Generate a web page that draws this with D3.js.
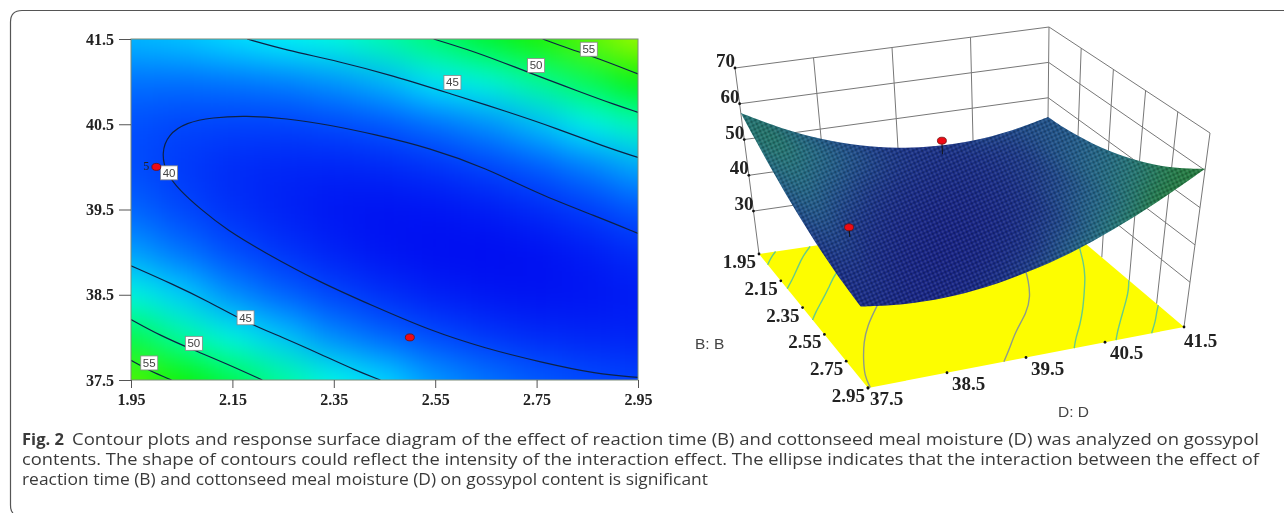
<!DOCTYPE html>
<html>
<head>
<meta charset="utf-8">
<script src="https://cdn.jsdelivr.net/npm/d3@7"></script>
<style>
  html, body { margin: 0; padding: 0; background: #fff; overflow: hidden; }
  .num { font-family: "Liberation Serif", serif; font-weight: bold; fill: #222; }
  .name { font-family: "Liberation Sans", sans-serif; fill: #444; }
  .caption { font-family: "Open Sans", sans-serif; font-size: 15.5px; fill: #3a3a3a; }
</style>
</head>
<body>
<script>
const width = 1284;
const height = 513;

// Tick labels
const bTicks = [1.95, 2.15, 2.35, 2.55, 2.75, 2.95];
const dTicks = [37.5, 38.5, 39.5, 40.5, 41.5];
const zTicks = [30, 40, 50, 60, 70];

// Response: one row per D value, one column per B value
const bGrid = [1.95, 2.05, 2.15, 2.25, 2.35, 2.45, 2.55, 2.65, 2.75, 2.85, 2.95];
const dGrid = [37.5, 38, 38.5, 39, 39.5, 40, 40.5, 41, 41.5];
const zGrid = [
  [57.4, 54.5, 51.8, 49.4, 47.2, 45.4, 43.8, 42.5, 41.5, 40.8, 40.3],
  [51.8, 49.2, 47.0, 45.0, 43.2, 41.8, 40.7, 39.8, 39.2, 38.9, 38.8],
  [47.3, 45.2, 43.3, 41.7, 40.4, 39.4, 38.6, 38.2, 38.0, 38.1, 38.4],
  [44.0, 42.3, 40.8, 39.6, 38.7, 38.1, 37.8, 37.7, 37.9, 38.4, 39.2],
  [41.8, 40.5, 39.4, 38.7, 38.2, 38.0, 38.1, 38.4, 39.1, 40.0, 41.2],
  [40.8, 39.9, 39.2, 38.9, 38.8, 39.0, 39.5, 40.3, 41.3, 42.6, 44.2],
  [40.9, 40.4, 40.2, 40.2, 40.6, 41.2, 42.1, 43.3, 44.7, 46.5, 48.5],
  [42.2, 42.1, 42.3, 42.7, 43.5, 44.5, 45.8, 47.4, 49.3, 51.4, 53.9],
  [44.6, 44.9, 45.5, 46.4, 47.6, 49.0, 50.7, 52.7, 55.0, 57.6, 60.4]
];

// Contour lines as [B, D] pairs
const contour40 = [[2.95, 37.53], [2.868, 37.57], [2.758, 37.71], [2.649, 37.87], [2.54, 38.08], [2.431, 38.36], [2.321, 38.65], [2.212, 39.0], [2.139, 39.26], [2.088, 39.5], [2.045, 39.73], [2.019, 39.93], [2.01, 40.16], [2.023, 40.38], [2.059, 40.52], [2.11, 40.58], [2.176, 40.6], [2.256, 40.57], [2.343, 40.49], [2.431, 40.38], [2.54, 40.22], [2.649, 39.99], [2.758, 39.67], [2.868, 39.42], [2.95, 39.22]];
const contour45Upper = [[2.179, 41.5], [2.256, 41.37], [2.358, 41.24], [2.467, 41.07], [2.584, 40.85], [2.686, 40.66], [2.795, 40.44], [2.882, 40.24], [2.95, 40.11]];
const contour45Lower = [[1.95, 38.84], [2.03, 38.63], [2.103, 38.42], [2.176, 38.18], [2.249, 38.0], [2.321, 37.81], [2.394, 37.61], [2.442, 37.5]];
const contour50Upper = [[2.547, 41.5], [2.613, 41.38], [2.686, 41.22], [2.751, 41.07], [2.831, 40.89], [2.904, 40.73], [2.95, 40.64]];
const contour50Lower = [[1.95, 38.21], [2.008, 38.02], [2.074, 37.85], [2.139, 37.69], [2.209, 37.5]];
const contour55Upper = [[2.762, 41.5], [2.817, 41.38], [2.868, 41.28], [2.95, 41.09]];
const contour55Lower = [[1.95, 37.73], [1.986, 37.61], [2.03, 37.5]];
const contourLevels = [40, 45, 45, 50, 50, 55, 55];
const contourLines = [contour40, contour45Upper, contour45Lower, contour50Upper, contour50Lower, contour55Upper, contour55Lower];

// Contour labels: level, B, D
const labelLevels = [55, 50, 45, 40, 45, 50, 55];
const labelB = [2.853, 2.749, 2.584, 2.025, 2.176, 2.074, 1.986];
const labelD = [41.38, 41.19, 40.99, 39.93, 38.23, 37.93, 37.7];

// Design points: B, D, measured response, surface below it
const pointB = [2.0, 2.5];
const pointD = [40.0, 38.0];
const pointZ = [44, 43.9];
const pointSurface = [40.2, 41.2];

const svg = d3.select("body")
    .append("svg")
    .attr("width", width)
    .attr("height", height)
    .style("display", "block");

const defs = svg.append("defs");
const blur = (id, sd) => defs.append("filter")
    .attr("id", id)
    .attr("filterUnits", "userSpaceOnUse")
    .attr("x", 0).attr("y", 0).attr("width", width).attr("height", height)
    .attr("color-interpolation-filters", "sRGB")
    .append("feGaussianBlur").attr("stdDeviation", sd);
blur("heatBlur", 19);
blur("surfBlur", 12);
blur("soft", 0.5);

// Outer rounded frame of the figure
svg.append("path")
    .attr("d", "M13,513 Q10.5,511 10.5,505 V22 Q10.5,10.5 22,10.5 H1284")
    .attr("fill", "none")
    .attr("stroke", "#555")
    .attr("stroke-width", 1.2);

const chart = svg.append("g").attr("filter", "url(#soft)");

// ---------- contour plot ----------
const x = d3.scaleLinear().domain([1.95, 2.95]).range([131, 638]);
const y = d3.scaleLinear().domain([37.5, 41.5]).range([380, 39]);

const heatColor = d3.scaleLinear()
    .domain([37.5, 41, 44, 46, 48, 50, 54, 64])
    .range(["#0008f0", "#0050ff", "#00a0ff", "#00f4ff", "#00ffd8", "#00ff80", "#00f000", "#ffff00"]);

defs.append("clipPath").attr("id", "plotClip")
    .append("rect")
    .attr("x", x.range()[0]).attr("y", y.range()[1])
    .attr("width", x.range()[1] - x.range()[0])
    .attr("height", y.range()[0] - y.range()[1]);

const stepB = bGrid[1] - bGrid[0];
const stepD = dGrid[1] - dGrid[0];
const pad = 80; // edge cells run past the plot so the blur keeps its colour at the border

const heat = chart.append("g").attr("clip-path", "url(#plotClip)")
    .append("g").attr("filter", "url(#heatBlur)");

const cells = zGrid.flatMap((row, j) => row.map((z, i) => ({ i, j, z })));
heat.selectAll("rect")
    .data(cells)
    .enter()
    .append("rect")
    .attr("x", d => x(bGrid[d.i] - stepB / 2) - (d.i === 0 ? pad : 0))
    .attr("y", d => y(dGrid[d.j] + stepD / 2) - (d.j === dGrid.length - 1 ? pad : 0))
    .attr("width", d => x(bGrid[d.i] + stepB / 2) - x(bGrid[d.i] - stepB / 2) + (d.i === 0 || d.i === bGrid.length - 1 ? pad : 0) + 0.5)
    .attr("height", d => y(dGrid[d.j] - stepD / 2) - y(dGrid[d.j] + stepD / 2) + (d.j === 0 || d.j === dGrid.length - 1 ? pad : 0) + 0.5)
    .attr("fill", d => heatColor(d.z));

const contourPath = d3.line()
    .x(d => x(d[0]))
    .y(d => y(d[1]))
    .curve(d3.curveBasis);

chart.append("g").attr("clip-path", "url(#plotClip)")
    .selectAll("path")
    .data(contourLines)
    .enter()
    .append("path")
    .attr("d", contourPath)
    .attr("fill", "none")
    .attr("stroke", "#0d2246")
    .attr("stroke-width", 1.2);

chart.append("rect")
    .attr("x", x.range()[0]).attr("y", y.range()[1])
    .attr("width", x.range()[1] - x.range()[0])
    .attr("height", y.range()[0] - y.range()[1])
    .attr("fill", "none")
    .attr("stroke", "#7c8c78");

const leftAxis = chart.append("g")
    .attr("transform", `translate(${x.range()[0]},0)`)
    .call(d3.axisLeft(y).tickValues(dTicks).tickFormat(d3.format(".1f")).tickSize(12).tickPadding(5));
const bottomAxis = chart.append("g")
    .attr("transform", `translate(0,${y.range()[0]})`)
    .call(d3.axisBottom(x).tickValues(bTicks).tickFormat(d3.format(".2f")).tickSize(8).tickPadding(6));
[leftAxis, bottomAxis].forEach(a => {
    a.select(".domain").remove();
    a.selectAll("line").attr("stroke", "#555");
    a.selectAll("text").attr("class", "num").style("font-size", "16px");
});

const labels = chart.append("g")
    .selectAll("g")
    .data(labelLevels)
    .enter()
    .append("g")
    .attr("transform", (d, i) => `translate(${x(labelB[i])},${y(labelD[i])})`);
labels.append("rect")
    .attr("x", -8.5).attr("y", -7).attr("width", 17).attr("height", 14)
    .attr("fill", "#fff").attr("stroke", "#888").attr("stroke-width", 0.8);
labels.append("text")
    .attr("class", "name")
    .attr("text-anchor", "middle")
    .attr("y", 4)
    .style("font-size", "11.5px")
    .text(d => d);

chart.selectAll(".flat-point")
    .data(pointB)
    .enter()
    .append("ellipse")
    .attr("class", "flat-point")
    .attr("cx", d => x(d))
    .attr("cy", (d, i) => y(pointD[i]))
    .attr("rx", 4.5).attr("ry", 3.5)
    .attr("fill", "#ee0a14").attr("stroke", "#6b1010").attr("stroke-width", 0.8);

chart.append("text")
    .attr("class", "num")
    .attr("x", x(pointB[0]) - 7)
    .attr("y", y(pointD[0]) + 3)
    .attr("text-anchor", "end")
    .style("font-size", "12px")
    .style("font-weight", "normal")
    .text("5");

// ---------- response surface ----------
const zFloor = 18;
const u = d3.scaleLinear().domain([1.95, 2.95]).range([0, 1]);
const w = d3.scaleLinear().domain([37.5, 41.5]).range([0, 1]);
const h = d3.scaleLinear().domain([zFloor, 70]).range([0, 1]);

// Corners of the 3D box on the page, named B / D / floor-or-top
const boxFloor = { b0d0: [759, 254], b0d1: [1047, 211], b1d0: [868, 388], b1d1: [1184, 327] };
const boxTop = { b0d0: [735, 68], b0d1: [1049, 27], b1d0: [851, 198], b1d1: [1210, 133] };

function mix(a, b, t) {
    return [a[0] + (b[0] - a[0]) * t, a[1] + (b[1] - a[1]) * t];
}
function project(b, d, z) {
    const ub = u(b), wd = w(d);
    const floor = mix(mix(boxFloor.b0d0, boxFloor.b0d1, wd), mix(boxFloor.b1d0, boxFloor.b1d1, wd), ub);
    const top = mix(mix(boxTop.b0d0, boxTop.b0d1, wd), mix(boxTop.b1d0, boxTop.b1d1, wd), ub);
    return mix(floor, top, h(z));
}

const plainLine = d3.line();
const smoothLine = d3.line().curve(d3.curveBasis);
const edgeLine = d3.line().curve(d3.curveCatmullRom);

// Walls: the B = 1.95 side and the D = 41.5 side
const wallLines = [];
zTicks.forEach(z => {
    wallLines.push([project(1.95, 37.5, z), project(1.95, 41.5, z), project(2.95, 41.5, z)]);
});
[37.5, 38.5, 39.5, 40.5, 41.5].forEach(d => {
    wallLines.push([project(1.95, d, zFloor), project(1.95, d, 70)]);
});
[2.15, 2.35, 2.55, 2.75, 2.95].forEach(b => {
    wallLines.push([project(b, 41.5, zFloor), project(b, 41.5, 70)]);
});
chart.append("g")
    .selectAll("path")
    .data(wallLines)
    .enter()
    .append("path")
    .attr("d", plainLine)
    .attr("fill", "none")
    .attr("stroke", "#777")
    .attr("stroke-width", 1);

// Yellow floor with the contours laid on it
const floorCorners = [project(1.95, 37.5, zFloor), project(1.95, 41.5, zFloor), project(2.95, 41.5, zFloor), project(2.95, 37.5, zFloor)];
chart.append("path")
    .attr("d", plainLine(floorCorners) + "Z")
    .attr("fill", "#fdfd00");

chart.append("g")
    .selectAll("path")
    .data(contourLines)
    .enter()
    .append("path")
    .attr("d", line => smoothLine(line.map(p => project(p[0], p[1], zFloor))))
    .attr("fill", "none")
    .attr("stroke", (d, i) => contourLevels[i] === 40 ? "#8e9c88" : "#66cc88")
    .attr("stroke-width", 1.4);

// Surface facets, blurred together and cut to the outline of the surface
const surfColor = d3.scaleLinear()
    .domain([38, 41, 45, 50, 55, 60])
    .range(["#182484", "#1c3488", "#24608a", "#257878", "#247a46", "#2e7e28"]);

const facets = [];
d3.range(dGrid.length - 1).forEach(j => {
    d3.range(bGrid.length - 1).forEach(i => {
        facets.push({
            i, j,
            z: d3.mean([zGrid[j][i], zGrid[j][i + 1], zGrid[j + 1][i], zGrid[j + 1][i + 1]]),
            pts: [
                project(bGrid[i], dGrid[j], zGrid[j][i]),
                project(bGrid[i + 1], dGrid[j], zGrid[j][i + 1]),
                project(bGrid[i + 1], dGrid[j + 1], zGrid[j + 1][i + 1]),
                project(bGrid[i], dGrid[j + 1], zGrid[j + 1][i])
            ]
        });
    });
});

const lastI = bGrid.length - 1;
const lastJ = dGrid.length - 1;
const edgeFront = bGrid.map((b, i) => project(b, dGrid[0], zGrid[0][i]));
const edgeRight = dGrid.map((d, j) => project(bGrid[lastI], d, zGrid[j][lastI]));
const edgeBack = bGrid.map((b, i) => project(b, dGrid[lastJ], zGrid[lastJ][i])).reverse();
const edgeLeft = dGrid.map((d, j) => project(bGrid[0], d, zGrid[j][0])).reverse();
const outline = [edgeFront, edgeRight, edgeBack, edgeLeft]
    .map((e, k) => k === 0 ? edgeLine(e) : edgeLine(e).replace(/^M/, "L"))
    .join("") + "Z";

defs.append("clipPath").attr("id", "surfClip").append("path").attr("d", outline);

const surfPattern = defs.append("pattern")
    .attr("id", "mesh")
    .attr("patternUnits", "userSpaceOnUse")
    .attr("width", 4).attr("height", 4)
    .attr("patternTransform", "rotate(-24)");
surfPattern.append("rect").attr("width", 2).attr("height", 2).attr("fill", "#000").attr("opacity", 0.22);
surfPattern.append("rect").attr("x", 2).attr("y", 2).attr("width", 2).attr("height", 2).attr("fill", "#fff").attr("opacity", 0.1);

const surface = chart.append("g").attr("clip-path", "url(#surfClip)");
const surfaceFill = surface.append("g").attr("filter", "url(#surfBlur)");

// edge facets first with a wide stroke so the blur has colour to pull from past the outline
surfaceFill.selectAll(".edge")
    .data(facets.filter(f => f.i === 0 || f.j === 0 || f.i === lastI - 1 || f.j === lastJ - 1))
    .enter()
    .append("path")
    .attr("class", "edge")
    .attr("d", f => plainLine(f.pts) + "Z")
    .attr("fill", f => surfColor(f.z))
    .attr("stroke", f => surfColor(f.z))
    .attr("stroke-width", 60);
surfaceFill.selectAll(".facet")
    .data(facets)
    .enter()
    .append("path")
    .attr("class", "facet")
    .attr("d", f => plainLine(f.pts) + "Z")
    .attr("fill", f => surfColor(f.z))
    .attr("stroke", f => surfColor(f.z))
    .attr("stroke-width", 1);
surface.append("path")
    .attr("d", outline)
    .attr("fill", "url(#mesh)");

// Design points with their stems
chart.selectAll(".stem")
    .data(pointB)
    .enter()
    .append("path")
    .attr("class", "stem")
    .attr("d", (b, i) => plainLine([project(b, pointD[i], pointZ[i]), project(b, pointD[i], pointSurface[i])]))
    .attr("stroke", "#111")
    .attr("stroke-width", 1);
chart.selectAll(".point3d")
    .data(pointB)
    .enter()
    .append("ellipse")
    .attr("class", "point3d")
    .attr("cx", (b, i) => project(b, pointD[i], pointZ[i])[0])
    .attr("cy", (b, i) => project(b, pointD[i], pointZ[i])[1])
    .attr("rx", 4.5).attr("ry", 3.5)
    .attr("fill", "#ee0a14").attr("stroke", "#6b1010").attr("stroke-width", 0.8);

// Tick dots and labels of the 3D axes
const axisMarks = [
    ...zTicks.map(z => ({ at: project(1.95, 37.5, z), text: d3.format("d")(z), anchor: "end", dx: 0, dy: -1 })),
    ...bTicks.map(b => ({ at: project(b, 37.5, zFloor), text: d3.format(".2f")(b), anchor: "end", dx: -3, dy: 14 })),
    ...dTicks.map(d => ({ at: project(2.95, d, zFloor), text: d3.format(".1f")(d), anchor: "start", dx: d === 37.5 ? 2 : d === 41.5 ? 0 : 5, dy: d === 41.5 ? 20 : 17 }))
];
chart.selectAll(".tick-dot")
    .data(axisMarks)
    .enter()
    .append("circle")
    .attr("class", "tick-dot")
    .attr("cx", d => d.at[0])
    .attr("cy", d => d.at[1])
    .attr("r", 1.4)
    .attr("fill", "#111");
chart.selectAll(".tick-label")
    .data(axisMarks)
    .enter()
    .append("text")
    .attr("class", "num tick-label")
    .attr("x", d => d.at[0] + d.dx)
    .attr("y", d => d.at[1] + d.dy)
    .attr("text-anchor", d => d.anchor)
    .style("font-size", "19px")
    .text(d => d.text);

chart.append("text").attr("class", "name").attr("x", 695).attr("y", 349)
    .style("font-size", "15.5px").text("B: B");
chart.append("text").attr("class", "name").attr("x", 1058).attr("y", 417)
    .style("font-size", "15.5px").text("D: D");

// ---------- caption ----------
const captionText = [
    "Contour plots and response surface diagram of the effect of reaction time (B) and cottonseed meal moisture (D) was analyzed on gossypol",
    "contents. The shape of contours could reflect the intensity of the interaction effect. The ellipse indicates that the interaction between the effect of",
    "reaction time (B) and cottonseed meal moisture (D) on gossypol content is significant"
];
const captionX = [72, 22, 22];
const captionLength = [1187, 1237, 686];
const captionY = [445, 465, 485];

svg.append("text")
    .attr("class", "caption")
    .attr("x", 22).attr("y", captionY[0])
    .attr("textLength", 42).attr("lengthAdjust", "spacingAndGlyphs")
    .style("font-weight", "bold")
    .text("Fig. 2");
svg.selectAll(".cap-line")
    .data(captionText)
    .enter()
    .append("text")
    .attr("class", "caption cap-line")
    .attr("x", (d, i) => captionX[i])
    .attr("y", (d, i) => captionY[i])
    .attr("textLength", (d, i) => captionLength[i])
    .attr("lengthAdjust", "spacingAndGlyphs")
    .text(d => d);
</script>
</body>
</html>
